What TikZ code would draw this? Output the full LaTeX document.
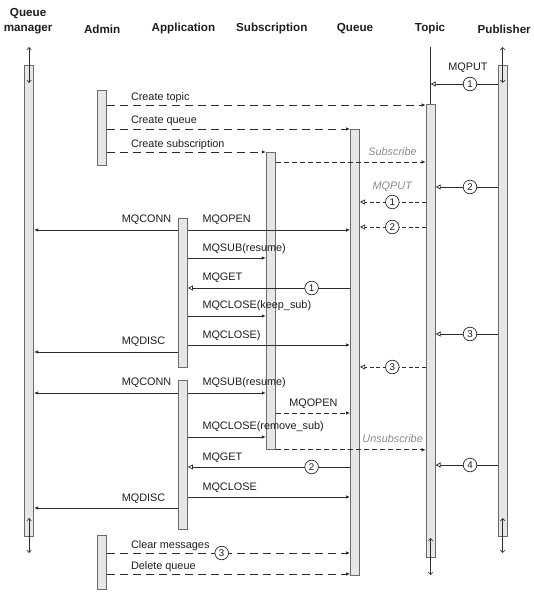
\documentclass[tikz,border=0pt]{standalone}
\usepackage{fontspec}
\setmainfont{Liberation Sans}
\usetikzlibrary{arrows.meta}
\definecolor{ink}{HTML}{2B2B2B}
\definecolor{txt}{HTML}{1E1E1E}
\definecolor{barfill}{HTML}{E6E6E6}
\definecolor{barline}{HTML}{6A6A6A}
\definecolor{notecol}{HTML}{8A8A8A}
\begin{document}
\begin{tikzpicture}[x=1bp,y=-1bp,
  bar/.style={draw=barline, fill=barfill, line width=0.8bp, minimum width=9.2bp, inner sep=0pt, anchor=north},
  hdr/.style={font=\fontsize{11.7}{14.5}\selectfont\bfseries, anchor=south, align=center, inner sep=0pt, text=txt},
  lbl/.style={font=\fontsize{10.9}{12}\selectfont, anchor=base west, inner sep=0pt, text=txt},
  lblc/.style={lbl, anchor=base},
  notelbl/.style={font=\fontsize{10.9}{12}\selectfont\itshape, inner sep=0pt, text=notecol},
  msg/.style={draw=ink, line width=0.7bp, -{Latex[length=4bp,width=3.5bp]}},
  ret/.style={draw=ink, line width=0.7bp, -{Triangle[open,fill=white,length=5bp,width=5bp]}},
  life/.style={draw=ink, line width=0.6bp, {Straight Barb[length=2.5bp,width=4.5bp]}-{Straight Barb[length=2.5bp,width=4.5bp]}},
  plainline/.style={draw=ink, line width=0.6bp},
  longdash/.style={dash pattern=on 8bp off 5bp},
  middash/.style={dash pattern=on 5bp off 3bp},
  shortdash/.style={dash pattern=on 4bp off 2.5bp},
  num/.style={circle, draw=ink, fill=white, line width=0.7bp, minimum size=13.6bp, inner sep=0pt, font=\fontsize{9.8}{9.8}\selectfont, text=txt},
]
\useasboundingbox (0,0) rectangle (534,593);

% headers
\node[hdr] (hqm) at (28.1,34) {Queue\\manager};
\node[hdr] (hadm) at (102.2,34) {Admin};
\node[hdr] (happ) at (183.4,34) {Application};
\node[hdr] (hsub) at (271.8,34) {Subscription};
\node[hdr] (hque) at (355,34) {Queue};
\node[hdr] (htop) at (430.1,34) {Topic};
\node[hdr] (hpub) at (504.2,34) {Publisher};

% activation bars
\node[bar, minimum height=471bp] (qm) at (29.1,65) {};
\node[bar, minimum height=75bp] (adm1) at (102.2,90) {};
\node[bar, minimum height=54bp] (adm2) at (102.2,535) {};
\node[bar, minimum height=149bp] (app1) at (182.9,218) {};
\node[bar, minimum height=149bp] (app2) at (182.9,380) {};
\node[bar, minimum height=297bp] (sub) at (270.8,152) {};
\node[bar, minimum height=446bp] (que) at (355,129) {};
\node[bar, minimum height=453bp] (top) at (430.6,104) {};
\node[bar, minimum height=471bp] (pub) at (502.7,65) {};

% lifeline ends
\coordinate (qmA) at (29.1,47); \coordinate (qmB) at (29.1,83);
\coordinate (qmC) at (29.1,518); \coordinate (qmD) at (29.1,553);
\coordinate (pubA) at (502.7,47); \coordinate (pubB) at (502.7,83);
\coordinate (pubC) at (502.7,518); \coordinate (pubD) at (502.7,553);
\coordinate (topA) at (430.6,47);
\coordinate (topC) at (430.6,538); \coordinate (topD) at (430.6,575);
\draw[life] (qmA) -- (qmB);
\draw[life] (qmC) -- (qmD);
\draw[life] (pubA) -- (pubB);
\draw[life] (pubC) -- (pubD);
\draw[plainline] (topA) -- (top.north);
\draw[life] (topC) -- (topD);

% publisher -> topic
\draw[ret] (pub.west |- 0,84) -- (top.north |- 0,84);
\node[num] (p1) at (470,84) {1};
\node[lblc] (lp1) at (468,70.8) {MQPUT};
\draw[ret] (pub.west |- 0,187) -- (top.east |- 0,187);
\node[num] (p2) at (470,187) {2};
\draw[ret] (pub.west |- 0,334) -- (top.east |- 0,334);
\node[num] (p3) at (470,334) {3};
\draw[ret] (pub.west |- 0,465) -- (top.east |- 0,465);
\node[num] (p4) at (470,465) {4};

% admin
\draw[msg,longdash] (adm1.east |- 0,105) -- (top.west |- 0,105);
\node[lbl] (l1) at (130.8,100.8) {Create topic};
\draw[msg,longdash] (adm1.east |- 0,129) -- (que.west |- 0,129);
\node[lbl] (l2) at (130.8,123.8) {Create queue};
\draw[msg,longdash] (adm1.east |- 0,152) -- (sub.west |- 0,152);
\node[lbl] (l3) at (130.8,147.8) {Create subscription};

% subscribe
\draw[msg,middash] (sub.east |- 0,162) -- (top.west |- 0,162);
\node[notelbl, anchor=base east] (l4) at (416.9,155.8) {Subscribe};
\node[notelbl, anchor=base] (l5) at (392.3,189.8) {MQPUT};

% topic -> queue
\draw[ret,shortdash] (top.west |- 0,202) -- (que.east |- 0,202);
\node[num] (t1) at (392.3,202) {1};
\draw[ret,shortdash] (top.west |- 0,227) -- (que.east |- 0,227);
\node[num] (t2) at (392.3,227) {2};
\draw[ret,shortdash] (top.west |- 0,367) -- (que.east |- 0,367);
\node[num] (t3) at (392.3,367) {3};

% first application session
\draw[msg] (app1.west |- 0,230) -- (qm.east |- 0,230);
\draw[msg] (app1.east |- 0,230) -- (que.west |- 0,230);
\node[lbl] (l6) at (121.6,222.8) {MQCONN};
\node[lbl] (l7) at (202.3,222.8) {MQOPEN};
\draw[msg] (app1.east |- 0,258) -- (sub.west |- 0,258);
\node[lbl] (l8) at (202.3,251.8) {MQSUB(resume)};
\draw[ret] (que.west |- 0,288) -- (app1.east |- 0,288);
\node[num] (g1) at (311.6,288) {1};
\node[lbl] (l9) at (202.3,280.8) {MQGET};
\draw[msg] (app1.east |- 0,316) -- (sub.west |- 0,316);
\node[lbl] (l10) at (202.3,308.8) {MQCLOSE(keep\_sub)};
\draw[msg] (app1.east |- 0,345) -- (que.west |- 0,345);
\node[lbl] (l11) at (202.3,338.8) {MQCLOSE)};
\draw[msg] (app1.west |- 0,352) -- (qm.east |- 0,352);
\node[lbl] (l12) at (121.6,344.8) {MQDISC};

% second application session
\draw[msg] (app2.west |- 0,393) -- (qm.east |- 0,393);
\draw[msg] (app2.east |- 0,393) -- (sub.west |- 0,393);
\node[lbl] (l13) at (121.6,385.8) {MQCONN};
\node[lbl] (l14) at (202.3,385.8) {MQSUB(resume)};
\draw[msg,middash] (sub.east |- 0,413) -- (que.west |- 0,413);
\node[lbl] (l15) at (289.1,406.8) {MQOPEN};
\draw[msg] (app2.east |- 0,437) -- (sub.west |- 0,437);
\node[lbl] (l16) at (202.3,429.8) {MQCLOSE(remove\_sub)};
\draw[msg,middash] (sub.south east) -- (top.west |- sub.south east);
\node[notelbl, anchor=base east] (l17) at (423,442.8) {Unsubscribe};
\draw[ret] (que.west |- 0,467) -- (app2.east |- 0,467);
\node[num] (g2) at (311.6,467) {2};
\node[lbl] (l18) at (202.3,460.8) {MQGET};
\draw[msg] (app2.east |- 0,497) -- (que.west |- 0,497);
\node[lbl] (l19) at (202.3,490.8) {MQCLOSE};
\draw[msg] (app2.west |- 0,508) -- (qm.east |- 0,508);
\node[lbl] (l20) at (121.6,501.8) {MQDISC};

% admin cleanup
\draw[msg,longdash] (adm2.east |- 0,553) -- (que.west |- 0,553);
\node[num] (c3) at (221.7,553) {3};
\node[lbl] (l21) at (130.8,548.8) {Clear messages};
\draw[msg,longdash] (adm2.east |- 0,574) -- (que.west |- 0,574);
\node[lbl] (l22) at (130.8,569.8) {Delete queue};
\end{tikzpicture}
\end{document}
